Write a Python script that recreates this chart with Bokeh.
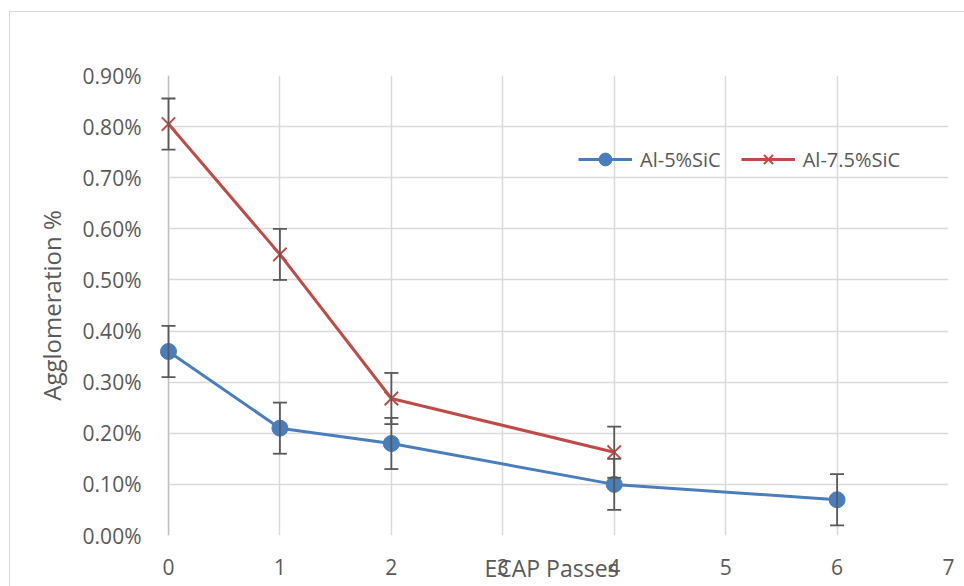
from bokeh.plotting import figure
from bokeh.models import (ColumnDataSource, Whisker, TeeHead, PrintfTickFormatter,
                          FixedTicker, Legend, LegendItem, BoxAnnotation, Span,
                          InlineStyleSheet)
from bokeh.embed import file_html
from bokeh.resources import INLINE

# ---- data ----
passes_5 = [0, 1, 2, 4, 6]
agg_5 = [0.36, 0.21, 0.18, 0.10, 0.07]
err_5 = [0.05, 0.05, 0.05, 0.05, 0.05]

passes_75 = [0, 1, 2, 4]
agg_75 = [0.805, 0.55, 0.268, 0.163]
err_75 = [0.05, 0.05, 0.05, 0.05]

x_ticks = [0, 1, 2, 3, 4, 5, 6, 7]
y_ticks = [0.0, 0.1, 0.2, 0.3, 0.4, 0.5, 0.6, 0.7, 0.8, 0.9]

BLUE = "#4a7ebb"
RED = "#be4b48"
GREY_TXT = "#595959"
GRID = "#d9d9d9"
FONT = "Open Sans"

p = figure(width=964, height=586, output_backend="svg", toolbar_location=None,
           x_range=(-0.1256, 7), y_range=(0, 0.9),
           min_border_left=154, min_border_right=16, min_border_top=75, min_border_bottom=51)
p.outline_line_color = None

p.xgrid.ticker = FixedTicker(ticks=x_ticks)
p.ygrid.ticker = FixedTicker(ticks=y_ticks)
p.xgrid.grid_line_color = GRID
p.ygrid.grid_line_color = GRID
p.xgrid.grid_line_width = 1.5
p.ygrid.grid_line_width = 1.5

# white mask left of x=0 so the plot area visually starts at 0
p.add_layout(BoxAnnotation(right=0, fill_color="white", fill_alpha=1,
                           line_color=None, level="underlay"))
p.add_layout(Span(location=0, dimension="height", line_color="#bfbfbf",
                  line_width=1.5, level="underlay"))

p.xaxis.ticker = FixedTicker(ticks=x_ticks)
p.yaxis.ticker = FixedTicker(ticks=y_ticks)
p.yaxis.formatter = PrintfTickFormatter(format="%.2f%%")
for ax in (p.xaxis, p.yaxis):
    ax.major_tick_line_color = None
    ax.minor_tick_line_color = None
    ax.axis_line_color = None
    ax.major_label_text_font = FONT
    ax.major_label_text_font_size = "21px"
    ax.major_label_text_color = GREY_TXT
    ax.axis_label_text_font = FONT
    ax.axis_label_text_font_style = "normal"
    ax.axis_label_text_color = GREY_TXT
p.xaxis.axis_label_text_font_size = "23px"
p.yaxis.axis_label_text_font_size = "24px"
p.xaxis.major_label_standoff = 17
p.yaxis.major_label_standoff = 7
p.xaxis.axis_label = "ECAP Passes"
p.xaxis.axis_label_standoff = -26
p.yaxis.axis_label = "Agglomeration %"
p.yaxis.axis_label_standoff = 12

src5 = ColumnDataSource(dict(x=passes_5, y=agg_5,
                             lo=[a - e for a, e in zip(agg_5, err_5)],
                             hi=[a + e for a, e in zip(agg_5, err_5)]))
src75 = ColumnDataSource(dict(x=passes_75, y=agg_75,
                              lo=[a - e for a, e in zip(agg_75, err_75)],
                              hi=[a + e for a, e in zip(agg_75, err_75)]))

l5 = p.line("x", "y", source=src5, line_color=BLUE, line_width=3)
l75 = p.line("x", "y", source=src75, line_color=RED, line_width=3)

for src in (src5, src75):
    w = Whisker(base="x", lower="lo", upper="hi", source=src, dimension="height",
                line_color=GREY_TXT, line_width=1.8, level="glyph",
                upper_head=TeeHead(size=14, line_color=GREY_TXT, line_width=1.8),
                lower_head=TeeHead(size=14, line_color=GREY_TXT, line_width=1.8))
    p.add_layout(w)

m5 = p.scatter("x", "y", source=src5, marker="circle", size=16,
               fill_color=BLUE, line_color=BLUE)
m75 = p.scatter("x", "y", source=src75, marker="x", size=19,
                line_color=RED, line_width=2)

legend = Legend(items=[LegendItem(label="Al-5%SiC", renderers=[l5, m5]),
                       LegendItem(label="Al-7.5%SiC", renderers=[l75, m75])],
                orientation="horizontal", location=(424, 360),
                border_line_color=None, background_fill_alpha=0,
                label_text_font=FONT, label_text_font_size="20px",
                label_text_color=GREY_TXT, glyph_width=54, glyph_height=32,
                spacing=20, padding=0, margin=0, label_standoff=8)
p.add_layout(legend)

p.stylesheets = [InlineStyleSheet(css=":host::after { content: ''; position: absolute; "
                                      "left: 9px; top: 11px; width: 2000px; height: 2000px; "
                                      "border-left: 1.5px solid #d9d9d9; border-top: 1.5px solid #d9d9d9; "
                                      "pointer-events: none; }")]

open("out.html", "w").write(file_html(p, INLINE))
